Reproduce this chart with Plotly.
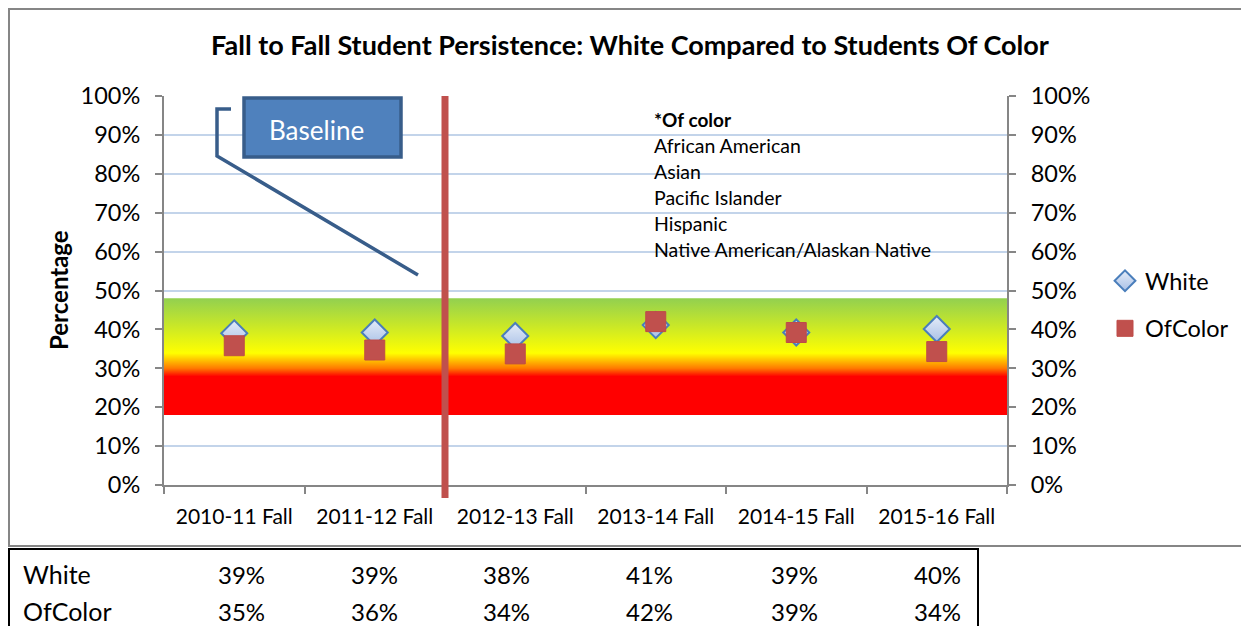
import plotly.graph_objects as go

# data
categories = ["2010-11 Fall", "2011-12 Fall", "2012-13 Fall", "2013-14 Fall", "2014-15 Fall", "2015-16 Fall"]
white_pct = [39.0, 39.2, 38.3, 41.1, 39.2, 40.1]
ofcolor_pct = [35.8, 34.7, 33.7, 42.0, 39.2, 34.3]

# numbers printed in the table under the chart
white_table = [39, 39, 38, 41, 39, 40]
ofcolor_table = [35, 36, 34, 42, 39, 34]

# target band (red -> yellow -> green)
band_low = 18
band_high = 48
baseline_split = 1.5  # between 2011-12 and 2012-13

of_color_groups = ["African American", "Asian", "Pacific Islander", "Hispanic",
                   "Native American/Alaskan Native"]

FONT = "Lato"
OFF = 8  # page body margin
W, H = 1249 - OFF, 626 - OFF
L, R, T, B = 164, 1007, 96, 485  # plot area in screen pixels


def px(x):
    return (x - L) / (R - L)


def py(y):
    return (B - y) / (B - T)


xs = list(range(len(categories)))
x_lo, x_hi = -0.5, len(categories) - 0.5

fig = go.Figure()

# gradient band
fig.add_trace(go.Scatter(
    x=[x_lo, x_hi, x_hi, x_lo, x_lo],
    y=[band_low, band_low, band_high, band_high, band_low],
    mode="lines", fill="toself",
    line=dict(width=0),
    fillgradient=dict(type="vertical", colorscale=[
        [0, "#FF0000"], [0.33, "#FF0000"], [0.40, "#FF7A00"],
        [0.53, "#FFFF00"], [1, "#92D050"]]),
    hoverinfo="skip", showlegend=False,
))

fig.add_trace(go.Scatter(
    x=xs, y=white_pct, mode="markers", name="White",
    marker=dict(symbol="diamond", size=20, color="#E4ECF8",
                gradient=dict(type="vertical", color="#A9C0E6"),
                line=dict(color="#4A7EBB", width=2)),
    legendgroup="a",
))
fig.add_trace(go.Scatter(
    x=xs, y=ofcolor_pct, mode="markers", name="OfColor",
    marker=dict(symbol="square", size=20, color="#C0504D",
                line=dict(color="#BE4B48", width=1)),
    legendgroup="b",
))

# right axis needs a trace to anchor to
fig.add_trace(go.Scatter(x=[None], y=[None], yaxis="y2", showlegend=False, hoverinfo="skip"))

shapes = [
    # outer chart border
    dict(type="rect", xref="paper", yref="paper",
         x0=px(9), x1=px(1262), y0=py(546), y1=py(9),
         line=dict(color="#868686", width=2), layer="below"),
    # table border
    dict(type="rect", xref="paper", yref="paper",
         x0=px(9), x1=px(978), y0=py(640), y1=py(549),
         line=dict(color="#000000", width=2)),
    # baseline divider
    dict(type="line", xref="x", yref="paper",
         x0=baseline_split, x1=baseline_split, y0=py(498), y1=1,
         line=dict(color="#C0504D", width=7), layer="above"),
    # callout box
    dict(type="rect", xref="paper", yref="paper",
         x0=px(244), x1=px(401), y0=py(157), y1=py(98),
         fillcolor="#4F81BD", line=dict(color="#385D8A", width=3.5)),
    # callout pointer
    dict(type="path", xref="paper", yref="paper",
         path=f"M {px(231)},{py(109)} L {px(217)},{py(109)} L {px(217)},{py(156)} L {px(418)},{py(275)}",
         line=dict(color="#385D8A", width=3.5)),
]


def note(text, x, y, size, xanchor="left", **kw):
    return dict(text=text, xref="paper", yref="paper", x=px(x), y=py(y),
                xanchor=xanchor, yanchor="middle", showarrow=False,
                font=dict(family=FONT, size=size, color=kw.pop("color", "black")), **kw)


annotations = [
    note("Baseline", 316, 130, 26, xanchor="center", color="white"),
    note("<b>Percentage</b>", 58, 290, 24, xanchor="center", textangle=-90),
    note("<b>*Of color</b>", 652, 119, 19),
]
for i, g in enumerate(of_color_groups):
    annotations.append(note(g, 652, 145 + 26 * i, 19.5))

# table under the chart
col_right = [267, 400, 532, 675, 820, 963]
for label, vals, yy in [("White", white_table, 574), ("OfColor", ofcolor_table, 611)]:
    annotations.append(note(label, 21, yy, 25))
    for xr, v in zip(col_right, vals):
        annotations.append(note(f"{v}%", xr, yy, 24, xanchor="right"))

axis_gray = "#868686"
fig.update_layout(
    width=W, height=H,
    margin=dict(l=L - OFF, r=W + OFF - R, t=T - OFF, b=H + OFF - B, autoexpand=False),
    paper_bgcolor="white", plot_bgcolor="white",
    font=dict(family=FONT, color="black"),
    title=dict(text="<b>Fall to Fall Student Persistence: White Compared to Students Of Color</b>",
               x=(630 - OFF) / W, xanchor="center", y=1 - (46 - OFF) / H, yanchor="middle",
               font=dict(family=FONT, size=27, color="black")),
    xaxis=dict(range=[x_lo, x_hi], tickvals=xs, ticktext=categories,
               ticks="", showgrid=False, zeroline=False,
               showline=True, linecolor=axis_gray, linewidth=2,
               tickfont=dict(size=21), ticklabelstandoff=12,
               minor=dict(tickvals=[x + 0.5 for x in [-1] + xs], ticks="outside",
                          ticklen=7, tickcolor=axis_gray, tickwidth=2, showgrid=False)),
    yaxis=dict(range=[0, 100], dtick=10, ticksuffix="%",
               showgrid=True, gridcolor="#C3D4EA", gridwidth=2, zeroline=False,
               showline=True, linecolor=axis_gray, linewidth=2,
               ticks="outside", ticklen=7, tickcolor=axis_gray, tickwidth=2,
               tickfont=dict(size=23.5), ticklabelstandoff=10),
    yaxis2=dict(range=[0, 100], dtick=10, ticksuffix="%", overlaying="y", side="right",
                showgrid=False, zeroline=False,
                showline=True, linecolor=axis_gray, linewidth=2,
                ticks="outside", ticklen=7, tickcolor=axis_gray, tickwidth=2,
                tickfont=dict(size=23.5), ticklabelstandoff=10),
    legend=dict(x=px(1105), y=py(259), xanchor="left", yanchor="top",
                font=dict(family=FONT, size=23.5), tracegroupgap=14,
                bgcolor="rgba(0,0,0,0)"),
    shapes=shapes,
    annotations=annotations,
)

fig.write_html("out.html")
